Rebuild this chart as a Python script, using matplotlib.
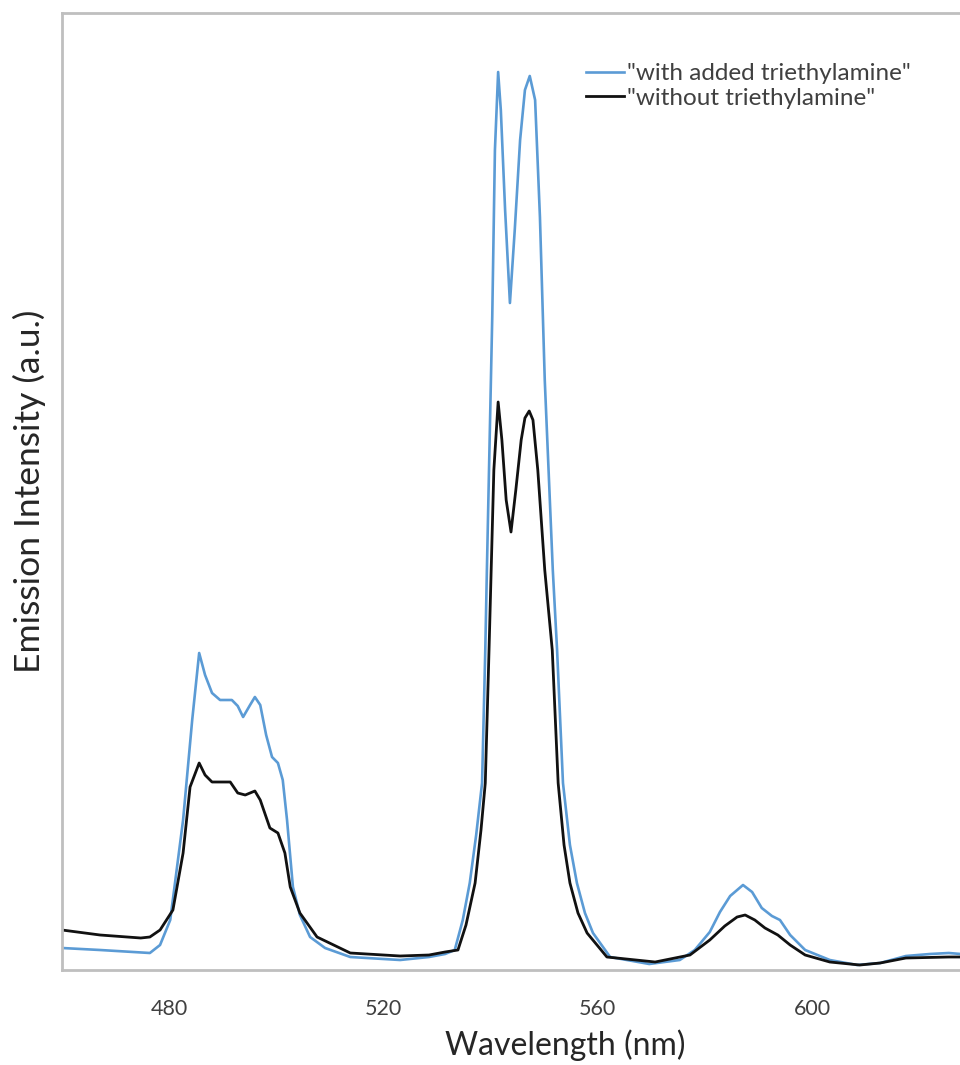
import numpy as np
import matplotlib.pyplot as plt

plt.rcParams['font.family'] = ['Lato', 'DejaVu Sans']

# emission spectra (intensity in arbitrary units)
wl_tea = [460.0, 467.1, 476.4, 478.3, 480.2, 482.6, 484.3, 485.6, 486.7, 488.0,
          489.5, 491.7, 492.8, 493.8, 495.1, 496.0, 497.0, 498.1, 499.2, 500.3,
          501.2, 502.0, 503.1, 504.4, 506.3, 509.1, 513.8, 523.1, 528.5, 531.5,
          533.3, 534.8, 536.1, 537.3, 538.4, 539.0, 539.3, 540.3, 540.8, 541.4,
          541.9, 542.7, 543.6, 544.5, 545.5, 546.4, 547.3, 548.3, 549.2, 550.1,
          551.6, 552.4, 553.5, 554.8, 556.1, 557.6, 559.1, 562.3, 569.6, 575.3,
          578.1, 580.9, 582.8, 584.7, 587.1, 588.8, 590.6, 592.5, 594.0, 595.9,
          598.7, 603.3, 608.4, 612.7, 617.5, 622.0, 625.5, 630.0]
int_tea = [22, 20, 17, 25, 50, 150, 250, 317, 295, 277,
           270, 270, 264, 253, 265, 273, 265, 235, 213, 207,
           190, 150, 83, 55, 33, 22, 13, 10, 13, 16,
           20, 50, 87, 135, 187, 320, 400, 653, 820, 898,
           860, 760, 667, 740, 830, 880, 894, 870, 753, 590,
           400, 320, 187, 125, 87, 57, 37, 13, 6, 10,
           20, 38, 58, 74, 85, 78, 62, 54, 50, 35,
           20, 10, 5, 7, 14, 16, 17, 15]

wl_none = [460.0, 467.1, 474.7, 476.4, 478.3, 480.7, 482.6, 483.9, 485.6, 486.7,
           488.0, 489.9, 491.4, 492.8, 494.2, 496.0, 497.0, 498.8, 500.3, 501.6,
           502.6, 504.4, 507.6, 513.8, 523.1, 528.5, 531.5, 533.9, 535.4, 537.1,
           538.2, 539.0, 539.7, 540.1, 540.6, 541.4, 542.1, 542.9, 543.8, 544.7,
           545.7, 546.4, 547.2, 547.9, 548.8, 550.1, 551.5, 552.6, 553.7, 554.8,
           556.3, 558.0, 561.7, 570.7, 577.2, 580.9, 583.7, 586.0, 587.5, 589.3,
           591.2, 593.6, 595.9, 598.7, 603.3, 608.9, 612.7, 617.5, 625.5, 630.0]
int_none = [40, 35, 32, 33, 40, 60, 117, 183, 207, 195,
            188, 188, 188, 177, 175, 179, 170, 142, 137, 117,
            83, 57, 33, 17, 14, 15, 18, 20, 45, 87,
            140, 187, 320, 400, 500, 568, 530, 470, 438, 480,
            530, 552, 559, 550, 500, 400, 320, 187, 125, 87,
            57, 37, 13, 8, 15, 30, 44, 53, 55, 50,
            42, 35, 25, 15, 8, 5, 7, 12, 13, 13]

xticks = [480, 520, 560, 600]

fig = plt.figure(figsize=(9.6, 10.65), dpi=100)
W, H = 960, 1065
# axes runs past the right edge of the picture, as in the cropped original
ax = fig.add_axes([62 / W, 95 / H, 1006 / W, 957 / H])

ax.plot(wl_tea, int_tea, color='#5B9BD5', lw=1.9, label='"with added triethylamine"')
ax.plot(wl_none, int_none, color='#111111', lw=2.0, label='"without triethylamine"')

ax.set_xlim(460, 460 + 1006 / 5.358)
ax.set_ylim(0, 957)
ax.set_xticks(xticks)
ax.set_yticks([])
ax.tick_params(axis='x', length=0, pad=21, labelsize=15.5, labelcolor='#404040')

for s in ['left', 'top', 'bottom']:
    ax.spines[s].set_color('#BFBFBF')
    ax.spines[s].set_linewidth(2)
ax.spines['right'].set_visible(False)

ax.set_xlabel('Wavelength (nm)', fontsize=23, color='#262626')
ax.xaxis.set_label_coords(0.5, -0.062)
ax.set_ylabel('Emission Intensity (a.u.)', fontsize=25.5, color='#262626')
ax.yaxis.set_label_coords(-0.016, 0.5)

ax.legend(loc='upper left', bbox_to_anchor=(586 / W, (H - 63) / H),
          bbox_transform=fig.transFigure, frameon=False, fontsize=17.5,
          borderpad=0, borderaxespad=0, handlelength=1.55, handletextpad=0.12,
          labelspacing=0.15, labelcolor='#404040')

fig.savefig('out.png', dpi=100)
